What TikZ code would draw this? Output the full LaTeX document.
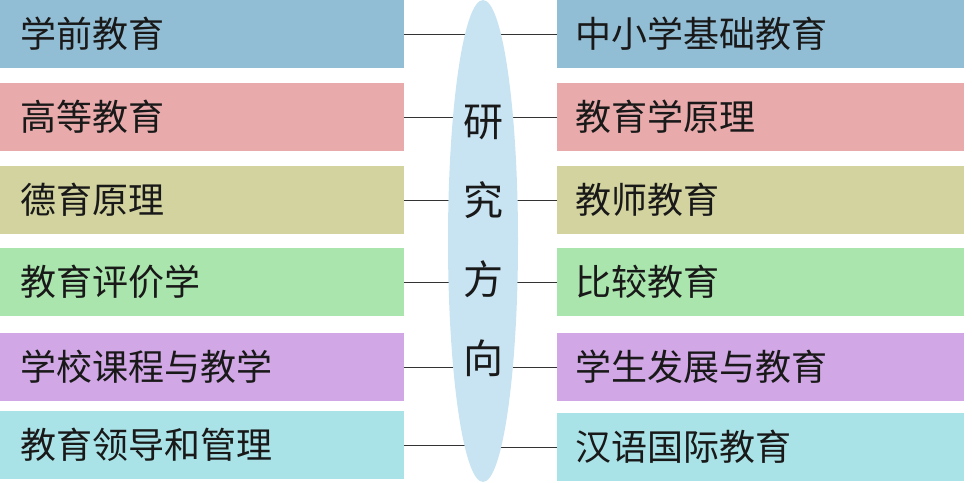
\documentclass[tikz,border=0pt]{standalone}
\usepackage{fontspec}
\setmainfont{Noto Sans CJK SC}
\usetikzlibrary{shapes.geometric,backgrounds}

\begin{document}
\begin{tikzpicture}[
        x=1pt, y=-1pt, % one unit per pixel, y runs downwards
        line cap=round,
        fieldbox/.style={rectangle, anchor=north west, minimum height=68pt, inner ysep=0pt,
            align=left, font=\fontsize{36}{40}\selectfont, text=black!90},
        leftbox/.style={fieldbox, inner xsep=20pt, text width=364pt},
        rightbox/.style={fieldbox, inner xsep=18pt, text width=371pt},
        link/.style={black!80, line width=1.4pt}
        ]

        % 1. Define colors to match the image
        \definecolor{boxblue}{HTML}{92BED5}
        \definecolor{boxpink}{HTML}{E9AAAB}
        \definecolor{boxolive}{HTML}{D3D39F}
        \definecolor{boxgreen}{HTML}{AAE5AD}
        \definecolor{boxpurple}{HTML}{D1A8E5}
        \definecolor{boxcyan}{HTML}{A9E3E7}
        \definecolor{axisblue}{HTML}{C8E4F2}

        % 2. Fix the page to the size of the image
        \useasboundingbox (0,0) rectangle (972,482);

        % 3. Left column of fields
        \node[leftbox, fill=boxblue]   (L1) at (0,0)   {学前教育};
        \node[leftbox, fill=boxpink]   (L2) at (0,83)  {高等教育};
        \node[leftbox, fill=boxolive]  (L3) at (0,166) {德育原理};
        \node[leftbox, fill=boxgreen]  (L4) at (0,248) {教育评价学};
        \node[leftbox, fill=boxpurple] (L5) at (0,333) {学校课程与教学};
        \node[leftbox, fill=boxcyan]   (L6) at (0,411) {教育领导和管理};

        % 4. Right column of fields
        \node[rightbox, fill=boxblue]   (R1) at (557,0)   {中小学基础教育};
        \node[rightbox, fill=boxpink]   (R2) at (557,83)  {教育学原理};
        \node[rightbox, fill=boxolive]  (R3) at (557,166) {教师教育};
        \node[rightbox, fill=boxgreen]  (R4) at (557,248) {比较教育};
        \node[rightbox, fill=boxpurple] (R5) at (557,333) {学生发展与教育};
        \node[rightbox, fill=boxcyan]   (R6) at (557,413) {汉语国际教育};

        % 5. The axis in the middle (light blue ellipse)
        \node[ellipse, fill=axisblue, minimum width=70pt, minimum height=482pt, inner sep=0pt,
            align=center, font=\fontsize{40}{79}\selectfont, text=black!90]
            (axis) at (483,241) {研\\究\\方\\向};

        % 6. Links from the fields to the axis, drawn behind it
        \begin{scope}[on background layer]
            \draw[link] (L1.east) -- (L1.east -| axis.center);
            \draw[link] (L2.east) -- (L2.east -| axis.center);
            \draw[link] (L3.east) -- (L3.east -| axis.center);
            \draw[link] (L4.east) -- (L4.east -| axis.center);
            \draw[link] (L5.east) -- (L5.east -| axis.center);
            \draw[link] (L6.east) -- (L6.east -| axis.center);
            \draw[link] (R1.west) -- (R1.west -| axis.center);
            \draw[link] (R2.west) -- (R2.west -| axis.center);
            \draw[link] (R3.west) -- (R3.west -| axis.center);
            \draw[link] (R4.west) -- (R4.west -| axis.center);
            \draw[link] (R5.west) -- (R5.west -| axis.center);
            \draw[link] (R6.west) -- (R6.west -| axis.center);
        \end{scope}
    \end{tikzpicture}
\end{document}
